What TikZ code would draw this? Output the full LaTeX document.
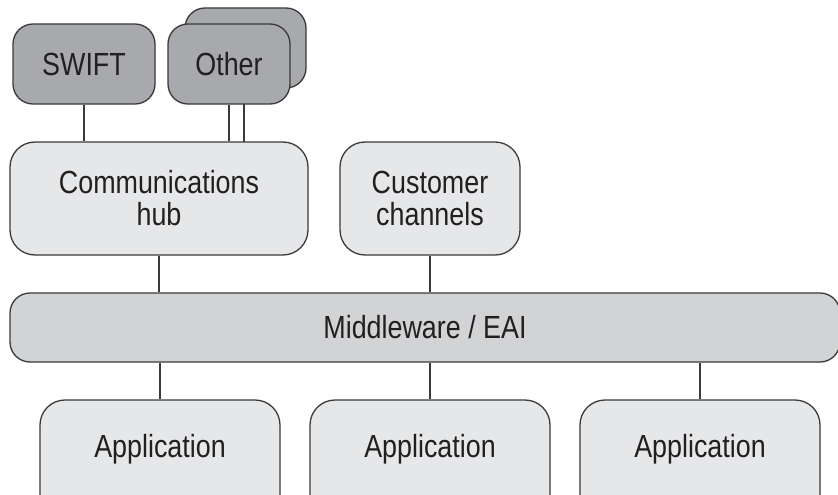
\documentclass[tikz,border=0pt]{standalone}
\usepackage{fontspec}
\setmainfont{Liberation Sans}[FakeStretch=0.84]
\definecolor{darkfill}{HTML}{A7A9AC}
\definecolor{midfill}{HTML}{D1D3D4}
\definecolor{lightfill}{HTML}{E6E7E8}
\definecolor{edge}{HTML}{3A3A3A}
\definecolor{ink}{HTML}{231F20}
\begin{document}
\begin{tikzpicture}[x=1pt,y=-1pt,
  box/.style={draw=edge, line width=1.3pt, inner sep=0pt, text=ink, align=center,
    font=\fontsize{32}{32}\selectfont},
  darkbox/.style={box, fill=darkfill, rounded corners=20pt},
  lightbox/.style={box, fill=lightfill, rounded corners=25pt},
  midbox/.style={box, fill=midfill, rounded corners=20pt},
  appbox/.style={lightbox, minimum width=240pt, minimum height=120pt, text height=57pt, text depth=63pt},
  link/.style={draw=edge, line width=1.3pt}]
\useasboundingbox (0,0) rectangle (838,495);
\clip (0,0) rectangle (838,495);
\fill[white] (0,0) rectangle (838,495);
% top row
\node[darkbox, minimum width=121pt, minimum height=80pt] (otherback) at (245.5,48) {};
\draw[link] (otherback.south -| 244,0) -- (244,142);
\node[darkbox, minimum width=122pt, minimum height=80pt] (other) at (229,64) {Other};
\node[darkbox, minimum width=142pt, minimum height=80pt] (swift) at (84,64) {SWIFT};
% second row
\node[lightbox, minimum width=298pt, minimum height=113pt] (hub) at (159,198.5) {Communications\\hub};
\node[lightbox, minimum width=180pt, minimum height=113pt] (cust) at (430,198.5) {Customer\\channels};
% middleware
\node[midbox, minimum width=830pt, minimum height=69pt] (mw) at (425,327.5) {Middleware / EAI};
% applications
\node[appbox] (app1) at (160,460) {Application};
\node[appbox] (app2) at (430,460) {Application};
\node[appbox] (app3) at (700,460) {Application};
% connectors
\draw[link] (swift.south) -- (swift.south |- hub.north);
\draw[link] (other.south) -- (other.south |- hub.north);
\draw[link] (hub.south) -- (hub.south |- mw.north);
\draw[link] (cust.south) -- (cust.south |- mw.north);
\draw[link] (app1.north |- mw.south) -- (app1.north);
\draw[link] (app2.north |- mw.south) -- (app2.north);
\draw[link] (app3.north |- mw.south) -- (app3.north);
\end{tikzpicture}
\end{document}
